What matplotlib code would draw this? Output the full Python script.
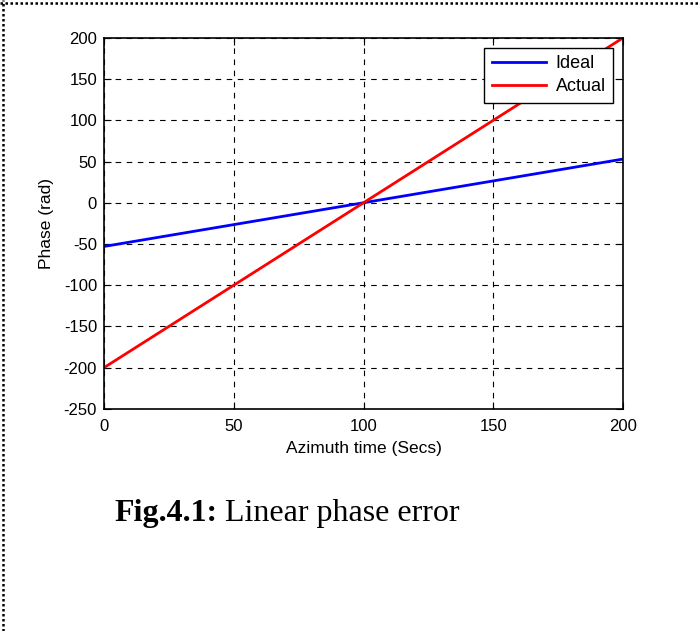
import matplotlib
matplotlib.use("Agg")
import matplotlib.pyplot as plt
from matplotlib.lines import Line2D

# phase of the ideal and actual chirp versus azimuth time
time_s = [0, 50, 100, 150, 200]
ideal_phase = [-53, -26.5, 0, 26.5, 53]
actual_phase = [-200, -100, 0, 100, 200]

x_ticks = [0, 50, 100, 150, 200]
y_ticks = [-250, -200, -150, -100, -50, 0, 50, 100, 150, 200]

plt.rcParams["font.family"] = ["Liberation Sans", "DejaVu Sans"]
plt.rcParams["axes.unicode_minus"] = False

fig = plt.figure(figsize=(6.98, 6.31), dpi=100)
fig.patch.set_facecolor("white")
ax = fig.add_axes([0.149, 0.352, 0.7436, 0.588])

ax.plot(time_s, ideal_phase, color="#0000ff", lw=2, label="Ideal")
ax.plot(time_s, actual_phase, color="#ff0000", lw=2, label="Actual")

ax.set_xlim(0, 200)
ax.set_ylim(-250, 200)
ax.set_xticks(x_ticks)
ax.set_yticks(y_ticks)
ax.tick_params(axis="y", direction="in", right=True, length=5, labelsize=12, pad=5)
ax.tick_params(axis="x", direction="in", top=True, length=5, labelsize=12, pad=7)
ax.grid(True, color="black", ls=(0, (5, 5)), lw=0.8)
for s in ax.spines.values():
    s.set_linewidth(1.2)

ax.set_xlabel("Azimuth time (Secs)", fontsize=12.5, labelpad=5)
ax.set_ylabel("Phase (rad)", fontsize=12.5, labelpad=7)

leg = ax.legend(loc="upper right", fontsize=13, frameon=True, fancybox=False,
                edgecolor="black", framealpha=1, handlelength=3.0,
                handletextpad=0.55, borderaxespad=0.55, labelspacing=0.35,
                borderpad=0.4)
leg.get_frame().set_linewidth(1.0)

cap_y = 1 - 514 / 631
head = fig.text(114 / 698, cap_y, "Fig.4.1:", fontsize=23, fontweight="bold",
                family="Liberation Serif", va="center", ha="left")
fig.canvas.draw()
head_box = head.get_window_extent()
fig.text((head_box.x1 + 8) / 698, cap_y, "Linear phase error", fontsize=23,
         family="Liberation Serif", va="center", ha="left")

# dotted page frame along the top and left edges
fig.add_artist(Line2D([0, 1], [1 - 3 / 631, 1 - 3 / 631], transform=fig.transFigure,
                      color="black", lw=1.8, ls=(0, (1, 1))))
fig.add_artist(Line2D([3 / 698, 3 / 698], [0, 1], transform=fig.transFigure,
                      color="black", lw=1.8, ls=(0, (1, 1))))

fig.savefig("out.png", dpi=100)
